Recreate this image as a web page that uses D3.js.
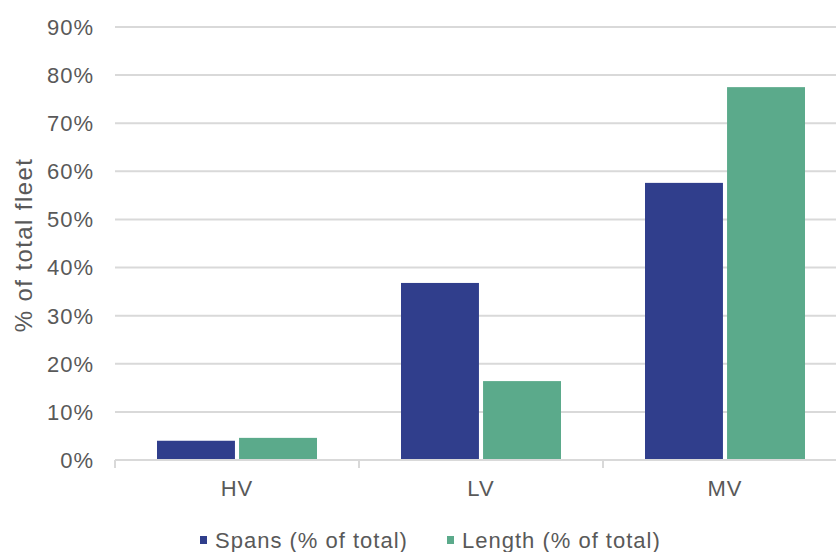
<!DOCTYPE html>
<html>
<head>
<meta charset="utf-8">
<title>% of total fleet by voltage</title>
<style>
  body { margin: 0; background: #fff; }
  text { font-family: Arial, "Liberation Sans", sans-serif; fill: #595959; }
</style>
</head>
<body>
<script src="https://d3js.org/d3.v7.min.js"></script>
<script>
// data
var categories = ["HV", "LV", "MV"];
var seriesNames = ["Spans (% of total)", "Length (% of total)"];
var spans = [4.0, 36.8, 57.6];
var lengths = [4.6, 16.4, 77.5];
var yTicks = [0, 10, 20, 30, 40, 50, 60, 70, 80, 90];
var colors = ["#303E8C", "#5BAA8B"];

var width = 836, height = 552;

var svg = d3.select("body").append("svg")
    .attr("width", width)
    .attr("height", height);

// plot area runs off the right edge like the original
var x = d3.scaleBand().domain(categories).range([115, 847]).padding(0);
var y = d3.scaleLinear().domain([0, 90]).range([460, 27]);
var inner = d3.scaleBand().domain([0, 1]).range([42, 202]).paddingInner(0.05);

// grid lines
svg.append("g").selectAll("line")
    .data(yTicks.slice(1))
    .enter().append("line")
    .attr("x1", 115).attr("x2", width)
    .attr("y1", function(d){ return y(d); })
    .attr("y2", function(d){ return y(d); })
    .attr("stroke", "#d9d9d9")
    .attr("stroke-width", 2);

// y tick labels
svg.append("g").selectAll("text")
    .data(yTicks)
    .enter().append("text")
    .attr("x", 94)
    .attr("y", function(d){ return y(d); })
    .attr("dy", "0.36em")
    .attr("text-anchor", "end")
    .style("font-size", "22px")
    .style("letter-spacing", "1px")
    .text(function(d){ return d + "%"; });

// bars
var rows = categories.map(function(c, i){ return {cat: c, vals: [spans[i], lengths[i]]}; });
var groups = svg.append("g").selectAll("g")
    .data(rows)
    .enter().append("g")
    .attr("transform", function(d){ return "translate(" + x(d.cat) + ",0)"; });

groups.selectAll("rect")
    .data(function(d){ return d.vals; })
    .enter().append("rect")
    .attr("x", function(d, i){ return inner(i); })
    .attr("width", inner.bandwidth())
    .attr("y", function(d){ return y(d); })
    .attr("height", function(d){ return y(0) - y(d); })
    .attr("fill", function(d, i){ return colors[i]; });

// x axis line and ticks
svg.append("line")
    .attr("x1", 115).attr("x2", width)
    .attr("y1", 460).attr("y2", 460)
    .attr("stroke", "#d9d9d9").attr("stroke-width", 2);

svg.append("g").selectAll("line")
    .data(categories)
    .enter().append("line")
    .attr("x1", function(d){ return x(d); })
    .attr("x2", function(d){ return x(d); })
    .attr("y1", 460).attr("y2", 468)
    .attr("stroke", "#d9d9d9").attr("stroke-width", 2);

svg.append("g").selectAll("text")
    .data(categories)
    .enter().append("text")
    .attr("x", function(d){ return x(d) + x.bandwidth() / 2; })
    .attr("y", 496)
    .attr("text-anchor", "middle")
    .style("font-size", "22px")
    .style("letter-spacing", "1px")
    .text(function(d){ return d; });

// y axis title
svg.append("text")
    .attr("transform", "translate(32,245) rotate(-90)")
    .attr("text-anchor", "middle")
    .style("font-size", "24px")
    .style("letter-spacing", "1.4px")
    .text("% of total fleet");

// legend
var legendX = [200, 447];
var legend = svg.append("g").selectAll("g")
    .data(seriesNames)
    .enter().append("g")
    .attr("transform", function(d, i){ return "translate(" + legendX[i] + ",540)"; });

legend.append("rect")
    .attr("x", 0).attr("y", -4)
    .attr("width", 7).attr("height", 8)
    .attr("fill", function(d, i){ return colors[i]; });

legend.append("text")
    .attr("x", 15)
    .attr("y", 0)
    .attr("dy", "0.36em")
    .style("font-size", "22px")
    .style("letter-spacing", "1px")
    .text(function(d){ return d; });
</script>
</body>
</html>
